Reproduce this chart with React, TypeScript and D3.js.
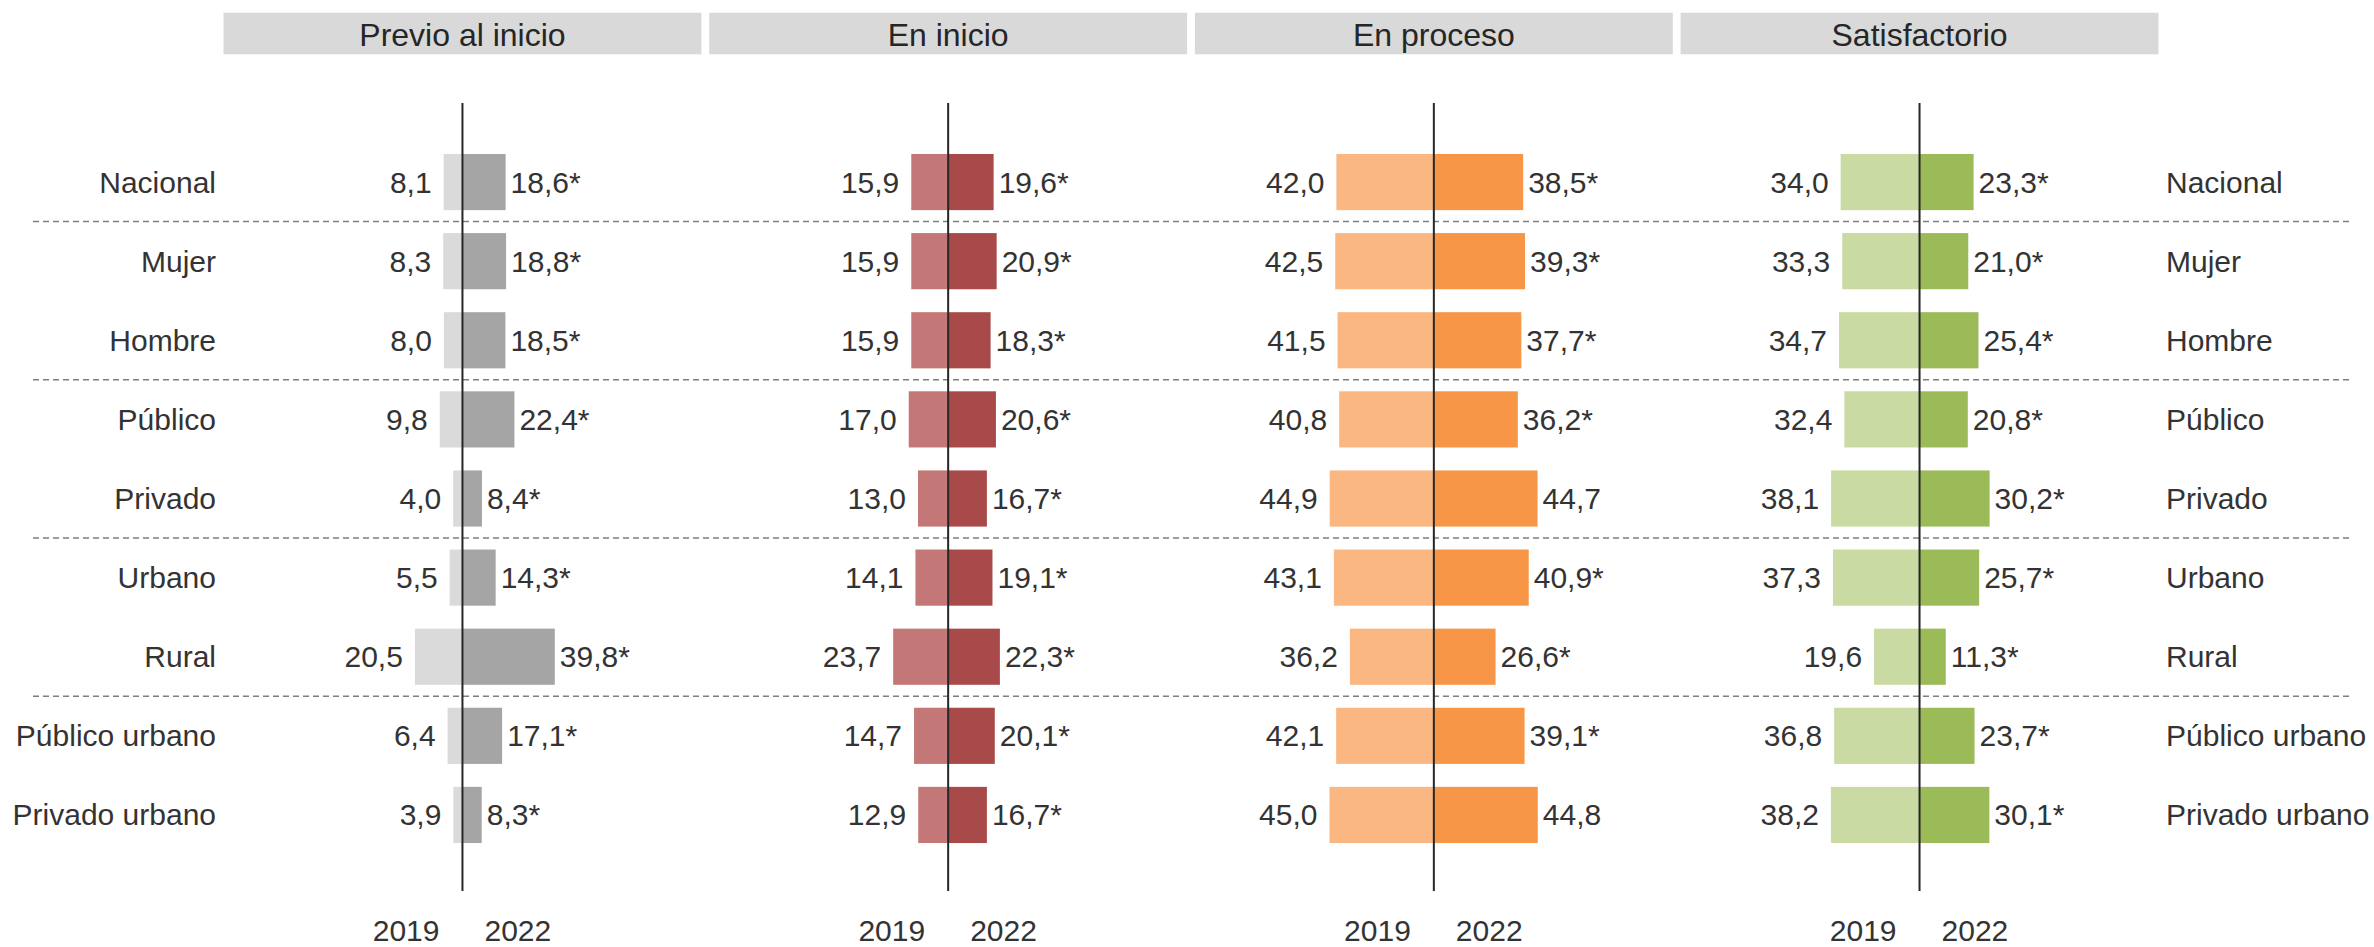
import * as d3 from "d3";

const categories = [
  "Nacional",
  "Mujer",
  "Hombre",
  "Público",
  "Privado",
  "Urbano",
  "Rural",
  "Público urbano",
  "Privado urbano",
];

const levels = ["Previo al inicio", "En inicio", "En proceso", "Satisfactorio"];

const years = ["2019", "2022"];

// 2019 values, one array per level
const previo2019 = [8.1, 8.3, 8.0, 9.8, 4.0, 5.5, 20.5, 6.4, 3.9];
const inicio2019 = [15.9, 15.9, 15.9, 17.0, 13.0, 14.1, 23.7, 14.7, 12.9];
const proceso2019 = [42.0, 42.5, 41.5, 40.8, 44.9, 43.1, 36.2, 42.1, 45.0];
const satis2019 = [34.0, 33.3, 34.7, 32.4, 38.1, 37.3, 19.6, 36.8, 38.2];

// 2022 values
const previo2022 = [18.6, 18.8, 18.5, 22.4, 8.4, 14.3, 39.8, 17.1, 8.3];
const inicio2022 = [19.6, 20.9, 18.3, 20.6, 16.7, 19.1, 22.3, 20.1, 16.7];
const proceso2022 = [38.5, 39.3, 37.7, 36.2, 44.7, 40.9, 26.6, 39.1, 44.8];
const satis2022 = [23.3, 21.0, 25.4, 20.8, 30.2, 25.7, 11.3, 23.7, 30.1];

// significant change marks (*) for 2022
const previoSig = [1, 1, 1, 1, 1, 1, 1, 1, 1];
const inicioSig = [1, 1, 1, 1, 1, 1, 1, 1, 1];
const procesoSig = [1, 1, 1, 1, 0, 1, 1, 1, 0];
const satisSig = [1, 1, 1, 1, 1, 1, 1, 1, 1];

// rows after which a dashed separator is drawn
const groupEnds = ["Nacional", "Hombre", "Privado", "Rural"];

const colours = [
  ["#dadada", "#a5a5a5"],
  ["#c47777", "#a94a4a"],
  ["#fab781", "#f79646"],
  ["#c9daa2", "#9bbb59"],
];

const panels = [
  { v19: previo2019, v22: previo2022, sig: previoSig },
  { v19: inicio2019, v22: inicio2022, sig: inicioSig },
  { v19: proceso2019, v22: proceso2022, sig: procesoSig },
  { v19: satis2019, v22: satis2022, sig: satisSig },
];

const width = 2374;
const height = 947;
const font = "'Liberation Sans', Arial, sans-serif";
const textCol = "#333333";

const fmt = (v: number) => v.toFixed(1).replace(".", ",");

export default function App() {
  const xPanel = d3
    .scaleBand()
    .domain(levels)
    .range([223.5, 2158.5])
    .paddingInner(0.016)
    .paddingOuter(0);

  const y = d3
    .scaleBand()
    .domain(categories)
    .range([142.5, 854.5])
    .paddingInner(0.29)
    .paddingOuter(0.145);

  const len = d3.scaleLinear().domain([0, 100]).range([0, 232]);

  const bw = y.bandwidth();
  const gapY = (y.step() - bw) / 2;
  const mid = (c: string) => (y(c) as number) + bw / 2;

  return (
    <svg
      width={width}
      height={height}
      style={{ position: "absolute", left: 0, top: 0, background: "#fff" }}
      fontFamily={font}
    >
      {/* separators */}
      <g id="separators">
        {groupEnds.map((c) => {
          const yy = (y(c) as number) + bw + gapY;
          return (
            <line
              key={c}
              x1={33}
              x2={2350}
              y1={yy}
              y2={yy}
              stroke="#7f7f7f"
              strokeWidth={1.5}
              strokeDasharray="6,4"
            />
          );
        })}
      </g>

      {/* row labels left and right */}
      <g id="row-labels" fontSize={30} fill={textCol}>
        {categories.map((c) => (
          <g key={c}>
            <text x={216} y={mid(c)} dy="0.35em" textAnchor="end">
              {c}
            </text>
            <text x={2166} y={mid(c)} dy="0.35em" textAnchor="start">
              {c}
            </text>
          </g>
        ))}
      </g>

      {levels.map((lvl, pi) => {
        const x0 = xPanel(lvl) as number;
        const cx = x0 + xPanel.bandwidth() / 2;
        const p = panels[pi];
        return (
          <g key={lvl}>
            <rect
              x={x0}
              y={12.7}
              width={xPanel.bandwidth()}
              height={41.6}
              fill="#d9d9d9"
            />
            <text
              x={cx}
              y={46}
              textAnchor="middle"
              fontSize={32}
              fill="#262626"
            >
              {lvl}
            </text>

            {categories.map((c, i) => {
              const w19 = len(p.v19[i]);
              const w22 = len(p.v22[i]);
              return (
                <g key={c}>
                  <rect
                    x={cx - w19}
                    y={y(c)}
                    width={w19}
                    height={bw}
                    fill={colours[pi][0]}
                  />
                  <rect
                    x={cx}
                    y={y(c)}
                    width={w22}
                    height={bw}
                    fill={colours[pi][1]}
                  />
                  <text
                    x={cx - w19 - 12}
                    y={mid(c)}
                    dy="0.35em"
                    textAnchor="end"
                    fontSize={30}
                    fill={textCol}
                  >
                    {fmt(p.v19[i])}
                  </text>
                  <text
                    x={cx + w22 + 5}
                    y={mid(c)}
                    dy="0.35em"
                    textAnchor="start"
                    fontSize={30}
                    fill={textCol}
                  >
                    {fmt(p.v22[i]) + (p.sig[i] ? "*" : "")}
                  </text>
                </g>
              );
            })}

            <line
              x1={cx}
              x2={cx}
              y1={103}
              y2={891}
              stroke="#262626"
              strokeWidth={2}
            />

            <text
              x={cx - 23}
              y={941}
              textAnchor="end"
              fontSize={30}
              fill={textCol}
            >
              {years[0]}
            </text>
            <text
              x={cx + 22}
              y={941}
              textAnchor="start"
              fontSize={30}
              fill={textCol}
            >
              {years[1]}
            </text>
          </g>
        );
      })}
    </svg>
  );
}
